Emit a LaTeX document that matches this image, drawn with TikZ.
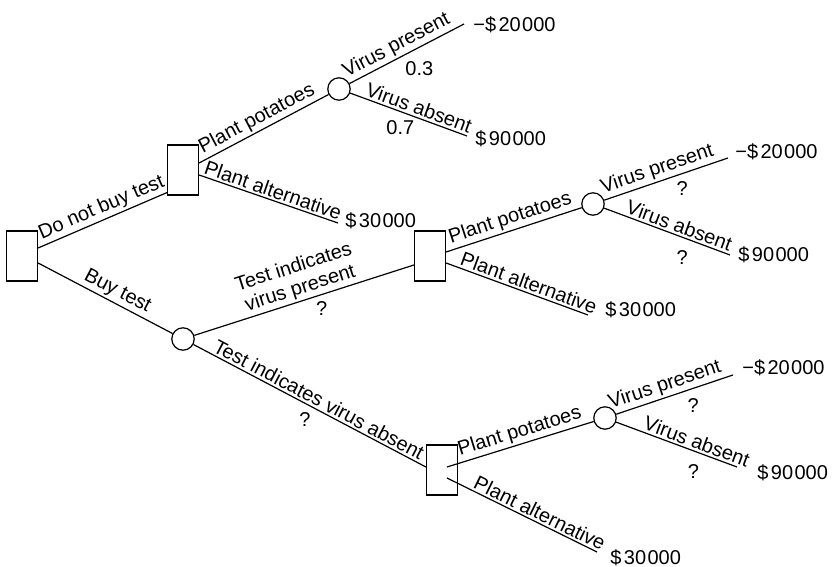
\documentclass[tikz,border=0pt]{standalone}
\usepackage{fontspec}
\setmainfont{Liberation Sans}
\usepackage{tikz}
\usetikzlibrary{positioning}
\newcommand{\money}[2]{\$\kern1.2pt#1\kern0.7pt#2}
\tikzset{
  decision/.style={rectangle,draw=black,line width=0.6pt,minimum width=15.5pt,
    minimum height=25pt,inner sep=0pt},
  chance/.style={circle,draw=black,line width=0.6pt,minimum size=11.2pt,inner sep=0pt},
  branch/.style={line width=0.6pt},
  branchlabel/.style={font=\fontsize{10}{11}\selectfont,sloped,above,inner sep=1pt,
    align=center},
  problabel/.style={font=\fontsize{10}{11}\selectfont,inner sep=0pt},
  payoff/.style={font=\fontsize{10}{11}\selectfont,anchor=west,inner sep=0pt}
}

\begin{document}
\begin{tikzpicture}[x=0.5pt,y=-0.5pt]
  \useasboundingbox (0,0) rectangle (832,567);
  \node[decision] (d0) at (22,256) {};
  \node[decision] (d1) at (183,170) {};
  \node[chance] (c1) at (183,339) {};
  \node[chance] (c2) at (339,89) {};
  \node[decision] (d2) at (430,256) {};
  \node[chance] (c3) at (593,204) {};
  \node[decision] (d3) at (442,470) {};
  \node[chance] (c4) at (605,418) {};
  \coordinate (e1) at (464,24);
  \coordinate (e2) at (467,136);
  \coordinate (e3) at (338,223);
  \coordinate (e4) at (728,158);
  \coordinate (e5) at (730,255);
  \coordinate (e6) at (588,315);
  \coordinate (e7) at (733,375);
  \coordinate (e8) at (737,467);
  \coordinate (e9) at (597,552);
  \node[payoff] (v1) at (473,25) {−\money{20}{000}};
  \node[payoff] (v2) at (475,139) {\money{90}{000}};
  \node[payoff] (v3) at (345,221) {\money{30}{000}};
  \node[payoff] (v4) at (735,152) {−\money{20}{000}};
  \node[payoff] (v5) at (738,255) {\money{90}{000}};
  \node[payoff] (v6) at (605,310) {\money{30}{000}};
  \node[payoff] (v7) at (742,368) {−\money{20}{000}};
  \node[payoff] (v8) at (757,473) {\money{90}{000}};
  \node[payoff] (v9) at (610,558) {\money{30}{000}};
  \draw[branch] ([yshift=4pt]d0.east) -- node[branchlabel,pos=0.53] {Do not buy test} ([yshift=1.5pt]d1.south west);
  \draw[branch] ([yshift=-3.5pt]d0.east) -- node[branchlabel,pos=0.55] {Buy test} (c1);
  \draw[branch] ([yshift=3.5pt]d1.east) -- node[branchlabel,pos=0.49] {Plant potatoes} (c2);
  \draw[branch] ([yshift=-2.5pt]d1.east) -- node[branchlabel,pos=0.51] {Plant alternative} (e3);
  \draw[branch] (c2) -- node[branchlabel,pos=0.46] {Virus present}
    node[problabel,pos=0.61,below=7pt] {0.3} (e1);
  \draw[branch] (c2) -- node[branchlabel,pos=0.56] {Virus absent}
    node[problabel,pos=0.43,below=4pt] {0.7} (e2);
  \draw[branch] (c1) -- node[branchlabel,pos=0.5] {Test indicates\\virus present}
    node[problabel,pos=0.58,below=3.4pt] {?} ([yshift=-4.5pt]d2.west);
  \draw[branch] (c1) -- node[branchlabel,pos=0.52] {Test indicates virus absent}
    node[problabel,pos=0.48,below=4.4pt] {?} ([yshift=1.5pt]d3.west);
  \draw[branch] ([yshift=2pt]d2.east) -- node[branchlabel,pos=0.5] {Plant potatoes} (c3);
  \draw[branch] ([yshift=-3.5pt]d2.east) -- node[branchlabel,pos=0.56] {Plant alternative} (e6);
  \draw[branch] (c3) -- node[branchlabel,pos=0.46] {Virus present}
    node[problabel,pos=0.63,below=3.6pt] {?} (e4);
  \draw[branch] (c3) -- node[branchlabel,pos=0.57] {Virus absent}
    node[problabel,pos=0.62,below=6.4pt] {?} (e5);
  \draw[branch] ([xshift=2.5pt,yshift=1.5pt]d3.center) -- node[branchlabel,pos=0.52] {Plant potatoes} (c4);
  \draw[branch] ([xshift=2.5pt,yshift=-4pt]d3.center) -- node[branchlabel,pos=0.59] {Plant alternative} (e9);
  \draw[branch] (c4) -- node[branchlabel,pos=0.45] {Virus present}
    node[problabel,pos=0.66,below=4.9pt] {?} (e7);
  \draw[branch] (c4) -- node[branchlabel,pos=0.64] {Virus absent}
    node[problabel,pos=0.64,below=6.6pt] {?} (e8);
\end{tikzpicture}
\end{document}
